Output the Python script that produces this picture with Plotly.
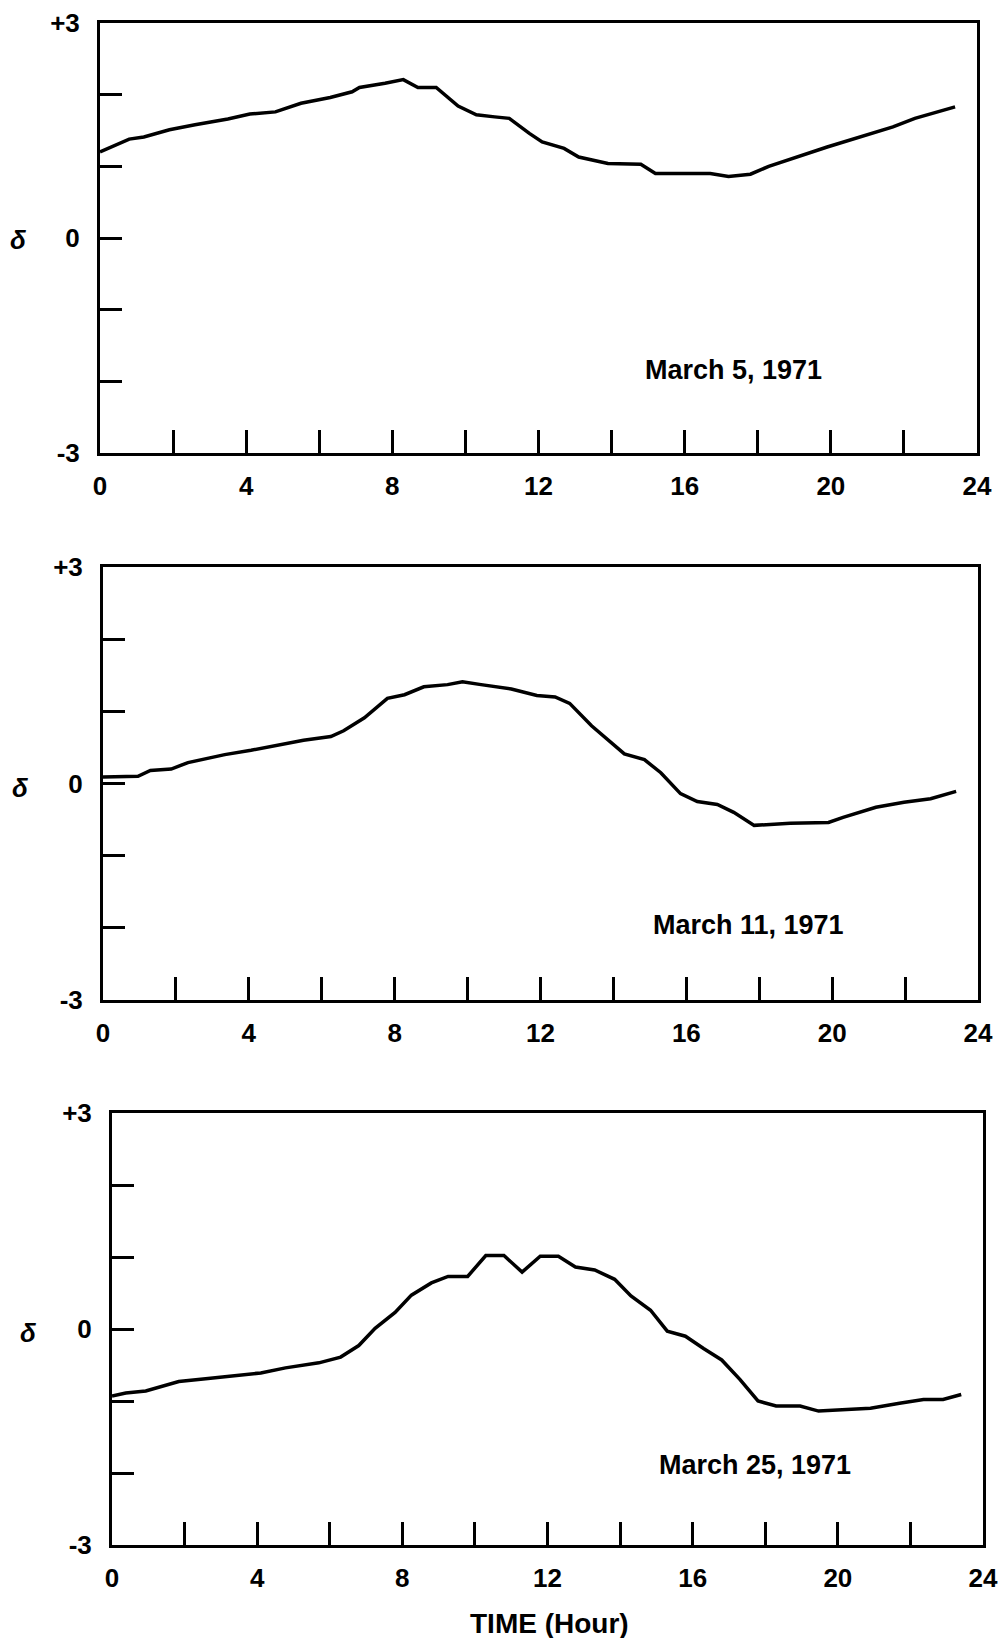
import plotly.graph_objects as go

# ---- data ----
hours_mar5 = [0.0, 0.4, 0.8, 1.2, 1.9, 2.6, 3.5, 4.1, 4.8, 5.5, 6.3, 6.9, 7.1, 7.8, 8.3, 8.7,
              9.2, 9.8, 10.3, 10.8, 11.2, 11.75, 12.1, 12.7, 13.1, 13.9, 14.8, 15.2, 16.7,
              17.2, 17.8, 18.3, 19.9, 21.7, 22.3, 23.4]
delta_mar5 = [1.20, 1.29, 1.38, 1.41, 1.51, 1.58, 1.66, 1.73, 1.76, 1.88, 1.96, 2.04, 2.10,
              2.16, 2.21, 2.10, 2.10, 1.84, 1.72, 1.69, 1.67, 1.46, 1.34, 1.25, 1.13, 1.04,
              1.03, 0.90, 0.90, 0.86, 0.89, 1.00, 1.27, 1.55, 1.67, 1.83]

hours_mar11 = [0.0, 0.96, 1.3, 1.87, 2.33, 3.34, 4.06, 4.88, 5.5, 6.25, 6.6, 7.17, 7.8, 8.27,
               8.8, 9.45, 9.86, 10.37, 10.8, 11.2, 11.9, 12.4, 12.8, 13.4, 14.3, 14.85, 15.3,
               15.84, 16.3, 16.85, 17.3, 17.86, 18.85, 19.9, 20.3, 21.2, 21.97, 22.7, 23.4]
delta_mar11 = [0.09, 0.10, 0.18, 0.20, 0.29, 0.40, 0.46, 0.54, 0.60, 0.65, 0.73, 0.91, 1.18,
               1.23, 1.34, 1.37, 1.41, 1.37, 1.34, 1.31, 1.22, 1.20, 1.11, 0.80, 0.41, 0.33,
               0.15, -0.14, -0.25, -0.29, -0.40, -0.58, -0.55, -0.54, -0.47, -0.33, -0.26,
               -0.21, -0.11]

hours_mar25 = [0.0, 0.38, 0.93, 1.84, 2.58, 3.3, 4.1, 4.78, 5.7, 6.3, 6.8, 7.25, 7.8, 8.25,
               8.8, 9.26, 9.8, 10.3, 10.8, 11.3, 11.8, 12.3, 12.77, 13.3, 13.85, 14.3, 14.84,
               15.3, 15.8, 16.3, 16.8, 17.3, 17.8, 18.3, 18.96, 19.47, 20.9, 21.7, 22.36,
               22.9, 23.4]
delta_mar25 = [-0.93, -0.89, -0.86, -0.73, -0.69, -0.65, -0.61, -0.54, -0.47, -0.39, -0.23,
               0.01, 0.23, 0.47, 0.64, 0.73, 0.73, 1.02, 1.02, 0.79, 1.01, 1.01, 0.86, 0.82,
               0.69, 0.46, 0.26, -0.03, -0.10, -0.27, -0.43, -0.70, -1.00, -1.07, -1.07,
               -1.14, -1.10, -1.03, -0.98, -0.98, -0.91]

panel_labels = ["March 5, 1971", "March 11, 1971", "March 25, 1971"]
x_tick_vals = [0, 2, 4, 6, 8, 10, 12, 14, 16, 18, 20, 22, 24]
x_tick_text = ["0", "", "4", "", "8", "", "12", "", "16", "", "20", "", "24"]
y_tick_vals = [-3, -2, -1, 0, 1, 2, 3]
y_tick_text = ["-3", "", "", "0", "", "", "+3"]
y_title = "δ"
x_title = "TIME (Hour)"

W, H = 999, 1638
# panel frames in pixels: (left, right, top, bottom)
frames = [(100, 977, 23, 453), (103, 978, 567, 1000), (112, 983, 1113, 1545)]
label_pos = [(733, 370), (748, 925), (755, 1465)]
delta_pos = [(18, 240), (20, 788), (28, 1333)]

series = [(hours_mar5, delta_mar5), (hours_mar11, delta_mar11), (hours_mar25, delta_mar25)]

fig = go.Figure()
font_fam = "Liberation Sans, Arial, sans-serif"
layout = dict(
    template="none",
    width=W, height=H, margin=dict(l=0, r=0, t=0, b=0, autoexpand=False),
    paper_bgcolor="white", plot_bgcolor="white", showlegend=False,
    font=dict(family=font_fam, color="black"),
)
annotations = []
for i, ((hx, hy), (l, r, t, b)) in enumerate(zip(series, frames)):
    n = "" if i == 0 else str(i + 1)
    fig.add_trace(go.Scatter(x=hx, y=hy, mode="lines", xaxis="x" + n, yaxis="y" + n,
                             line=dict(color="black", width=3.5), hoverinfo="skip"))
    layout["xaxis" + n] = dict(
        domain=[l / W, r / W], anchor="y" + n, range=[0, 24], automargin=False,
        tickmode="array", tickvals=x_tick_vals, ticktext=x_tick_text,
        ticks="inside", ticklen=23, tickwidth=2.5, tickcolor="black",
        showline=True, linecolor="black", linewidth=3, mirror=True,
        showgrid=False, zeroline=False, ticklabelstandoff=8,
        tickfont=dict(size=26, family=font_fam, weight="bold", color="black"),
    )
    layout["yaxis" + n] = dict(
        domain=[1 - b / H, 1 - t / H], anchor="x" + n, range=[-3, 3], automargin=False,
        tickmode="array", tickvals=y_tick_vals, ticktext=y_tick_text,
        ticks="inside", ticklen=22, tickwidth=3, tickcolor="black",
        showline=True, linecolor="black", linewidth=3, mirror=True,
        showgrid=False, zeroline=False, ticklabelstandoff=12,
        tickfont=dict(size=26, family=font_fam, weight="bold", color="black"),
    )
    lx, ly = label_pos[i]
    annotations.append(dict(text=panel_labels[i], x=lx / W, y=1 - ly / H, xref="paper",
                            yref="paper", showarrow=False, xanchor="center", yanchor="middle",
                            font=dict(size=27, family=font_fam, weight="bold", color="black")))
    dx, dy = delta_pos[i]
    annotations.append(dict(text="<i>" + y_title + "</i>", x=dx / W, y=1 - dy / H, xref="paper",
                            yref="paper", showarrow=False, xanchor="center", yanchor="middle",
                            font=dict(size=26, family=font_fam, weight="bold", color="black")))

annotations.append(dict(text=x_title, x=549 / W, y=1 - 1623 / H, xref="paper", yref="paper",
                        showarrow=False, xanchor="center", yanchor="middle",
                        font=dict(size=28, family=font_fam, weight="bold", color="black")))
layout["annotations"] = annotations
fig.update_layout(**layout)
fig.write_html(
    "out.html",
    config={"displayModeBar": False},
    post_script="document.body.style.margin='0';document.body.style.padding='0';"
                "document.documentElement.style.overflow='hidden';"
                "document.body.style.overflow='hidden';",
)
